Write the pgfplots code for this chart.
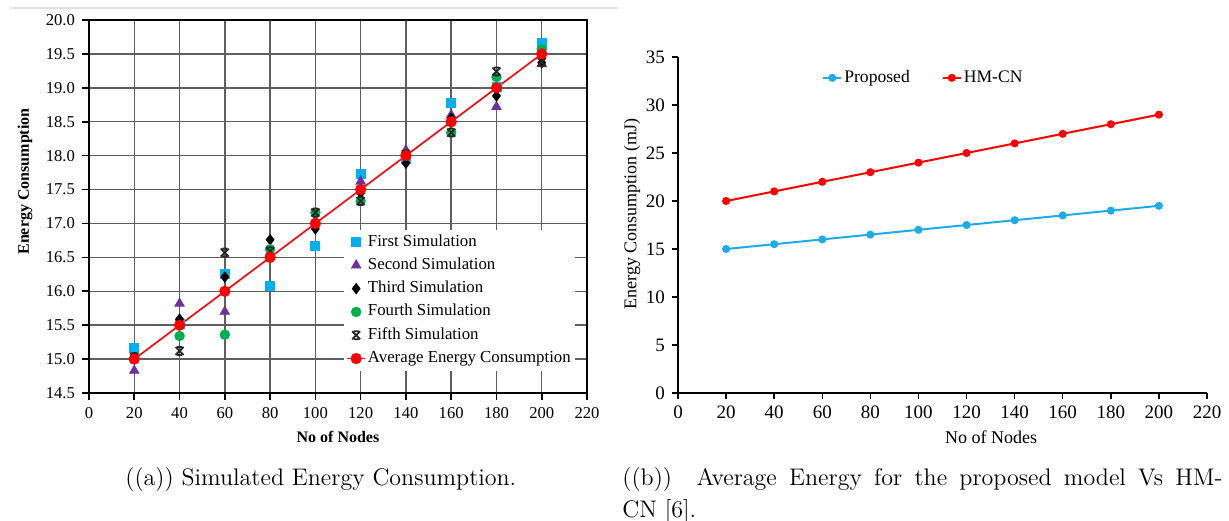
\documentclass[border=0pt]{standalone}
\usepackage{fontspec}
\usepackage{pgfplots}
\pgfplotsset{compat=1.18}
\newfontfamily\cf{Liberation Serif}
\definecolor{cblue}{RGB}{0,176,240}
\definecolor{cpurple}{RGB}{112,48,160}
\definecolor{cgreen}{RGB}{0,176,80}
\definecolor{cred}{RGB}{255,0,0}
\definecolor{pblue}{RGB}{30,172,232}
\definecolor{gridc}{RGB}{95,95,95}
\pgfdeclareplotmark{hourglass}{%
  \pgfpathmoveto{\pgfqpoint{-\pgfplotmarksize}{-\pgfplotmarksize}}%
  \pgfpathlineto{\pgfqpoint{\pgfplotmarksize}{\pgfplotmarksize}}%
  \pgfpathmoveto{\pgfqpoint{-\pgfplotmarksize}{\pgfplotmarksize}}%
  \pgfpathlineto{\pgfqpoint{\pgfplotmarksize}{-\pgfplotmarksize}}%
  \pgfpathmoveto{\pgfqpoint{-0.6\pgfplotmarksize}{\pgfplotmarksize}}%
  \pgfpathlineto{\pgfqpoint{0.6\pgfplotmarksize}{\pgfplotmarksize}}%
  \pgfpathmoveto{\pgfqpoint{-0.6\pgfplotmarksize}{-\pgfplotmarksize}}%
  \pgfpathlineto{\pgfqpoint{0.6\pgfplotmarksize}{-\pgfplotmarksize}}%
  \pgfusepathqstroke}
\pgfplotstableread{
x first second third fourth fifth avg
20  15.17 14.83 15.02 15.00 15.03 15.0
40  15.52 15.82 15.59 15.34 15.12 15.5
60  16.25 15.70 16.21 15.36 16.57 16.0
80  16.08 16.53 16.76 16.62 16.59 16.5
100 16.67 17.04 16.92 17.16 17.16 17.0
120 17.73 17.62 17.45 17.33 17.33 17.5
140 17.95 18.08 17.89 18.02 18.02 18.0
160 18.78 18.60 18.55 18.34 18.34 18.5
180 19.01 18.72 18.88 19.16 19.24 19.0
200 19.66 19.35 19.37 19.57 19.38 19.5
}\simtable
\pgfplotstableread{
x proposed hmcn
20  15.0 20
40  15.5 21
60  16.0 22
80  16.5 23
100 17.0 24
120 17.5 25
140 18.0 26
160 18.5 27
180 19.0 28
200 19.5 29
}\avgtable
\begin{document}
\begin{tikzpicture}
\useasboundingbox (0,0) rectangle (614.5pt,-260pt);
\draw[black!12, line width=1pt] (5pt,-4.15pt) -- (309pt,-4.15pt);
% ---------------- left chart
\begin{axis}[
  at={(44.5pt,-196.5pt)}, anchor=south west,
  scale only axis, width=249pt, height=186.5pt,
  xmin=0, xmax=220, ymin=14.5, ymax=20,
  xtick distance=20, ytick distance=0.5,
  tick pos=left, tick align=outside, major tick length=3.5pt,
  tick style={black, line width=0.8pt},
  axis line style={black, line width=1pt},
  grid=major, grid style={gridc, line width=0.75pt},
  /pgf/number format/assume math mode=true,
  tick label style={font=\cf\fontsize{8.3}{10}\selectfont},
  yticklabel style={/pgf/number format/.cd, fixed, fixed zerofill, precision=1},
  label style={font=\cf\bfseries\fontsize{8}{10}\selectfont},
  xlabel={No of Nodes},
  ylabel={Energy Consumption},
  xlabel style={at={(axis description cs:0.5,-0.118)}, anchor=center},
  ylabel style={at={(axis description cs:-0.1285,0.567)}, anchor=center},
  legend image code/.code={\draw[mark repeat=2,mark phase=2,#1] plot coordinates {(0pt,0pt) (4.5pt,0pt) (9pt,0pt)};},
  legend style={at={(axis description cs:0.512,0.438)}, anchor=north west,
    draw=none, fill=white, inner sep=1pt, row sep=1.65pt,
    font=\cf\fontsize{8.4}{10}\selectfont,
    nodes={inner sep=1pt, text height=6pt, text depth=2pt}},
  legend cell align=left,
]
\addplot[only marks, mark=square*, mark size=2.25pt, color=cblue] table[x=x, y=first] {\simtable};
\addlegendentry{First Simulation}
\addplot[only marks, mark=triangle*, mark size=2.7pt, color=cpurple] table[x=x, y=second] {\simtable};
\addlegendentry{Second Simulation}
\addplot[only marks, mark=diamond*, mark size=2.6pt, color=black] table[x=x, y=third] {\simtable};
\addlegendentry{Third Simulation}
\addplot[only marks, mark=*, mark size=2.4pt, color=cgreen] table[x=x, y=fourth] {\simtable};
\addlegendentry{Fourth Simulation}
\addplot[only marks, mark=hourglass, mark size=2pt, color=black!85, mark options={line width=0.9pt}] table[x=x, y=fifth] {\simtable};
\addlegendentry{Fifth Simulation}
\addplot[color=cred, line width=0.8pt, mark=*, mark size=2.4pt] table[x=x, y=avg] {\simtable};
\addlegendentry{Average Energy Consumption}
\end{axis}
% ---------------- right chart
\begin{axis}[
  at={(339pt,-196.5pt)}, anchor=south west,
  scale only axis, width=264.5pt, height=168pt,
  xmin=0, xmax=220, ymin=0, ymax=35,
  xtick distance=20, ytick distance=5,
  axis lines=left, axis line style={-, black, line width=0.7pt},
  tick align=outside, major tick length=3pt,
  tick style={black, line width=0.7pt},
  /pgf/number format/assume math mode=true,
  tick label style={font=\cf\fontsize{9.5}{11}\selectfont},
  label style={font=\cf\fontsize{9}{11}\selectfont},
  xlabel={No of Nodes},
  ylabel={Energy Consumption (mJ)},
  xlabel style={at={(axis description cs:0.592,-0.131)}, anchor=center},
  ylabel style={at={(axis description cs:-0.087,0.533)}, anchor=center},
  legend image code/.code={\draw[mark repeat=2,mark phase=2,#1] plot coordinates {(0pt,0pt) (4.5pt,0pt) (9pt,0pt)};},
  legend columns=2,
  legend style={at={(axis description cs:0.272,0.938)}, anchor=west,
    draw=none, fill=none, inner sep=0pt,
    font=\cf\fontsize{8.8}{10}\selectfont,
    nodes={inner sep=1pt},
    /tikz/every even column/.append style={column sep=15pt}},
]
\addplot[color=pblue, line width=1pt, mark=*, mark size=1.5pt] table[x=x, y=proposed] {\avgtable};
\addlegendentry{Proposed}
\addplot[color=cred, line width=1pt, mark=*, mark size=1.5pt] table[x=x, y=hmcn] {\avgtable};
\addlegendentry{HM-CN}
\end{axis}
% ---------------- captions
\node[anchor=base west, inner sep=0pt, font=\fontsize{12}{14}\selectfont] at (62.5pt,-242.5pt) {((a)) Simulated Energy Consumption.};
\node[anchor=base west, inner sep=0pt, font=\fontsize{12}{14}\selectfont] at (311pt,-242.5pt) {\makebox[300pt][s]{((b))\ \ Average Energy for the proposed model Vs HM-}};
\node[anchor=base west, inner sep=0pt, font=\fontsize{12}{14}\selectfont] at (311pt,-258.5pt) {CN [6].};
\end{tikzpicture}
\end{document}
